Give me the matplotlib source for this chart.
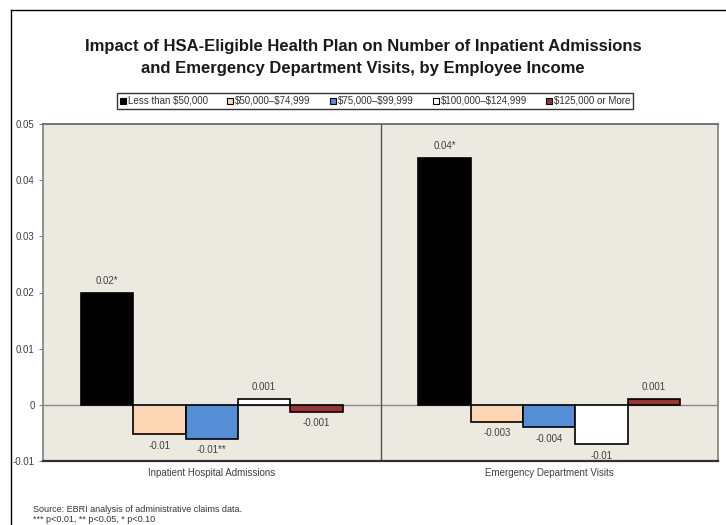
import matplotlib
matplotlib.use("Agg")
import matplotlib.pyplot as plt
from matplotlib.lines import Line2D
import numpy as np

plt.rcParams['font.family'] = ['Liberation Sans', 'DejaVu Sans']
plt.rcParams['text.parse_math'] = False

categories = ["Inpatient Hospital Admissions", "Emergency Department Visits"]
series = ["Less than $50,000", "$50,000\u2013$74,999", "$75,000\u2013$99,999",
          "$100,000\u2013$124,999", "$125,000 or More"]
values = {
    "Less than $50,000": [0.020, 0.044],
    "$50,000\u2013$74,999": [-0.0052, -0.003],
    "$75,000\u2013$99,999": [-0.006, -0.004],
    "$100,000\u2013$124,999": [0.001, -0.007],
    "$125,000 or More": [-0.0012, 0.001],
}
labels = {
    "Less than $50,000": ["0.02*", "0.04*"],
    "$50,000\u2013$74,999": ["-0.01", "-0.003"],
    "$75,000\u2013$99,999": ["-0.01**", "-0.004"],
    "$100,000\u2013$124,999": ["0.001", "-0.01"],
    "$125,000 or More": ["-0.001", "0.001"],
}
colors = ["#000000", "#FCD5B4", "#558ED5", "#FFFFFF", "#953735"]

fig = plt.figure(figsize=(7.26, 5.25), dpi=100)
ax = fig.add_axes([43/726, 1-461/525, 675/726, 337/525])
ax.set_facecolor("#ECEAE0")

x = np.arange(len(categories))
w = 0.155
for i, s in enumerate(series):
    xs = x + (i - 2) * w
    ax.bar(xs, values[s], width=w, color=colors[i], edgecolor="black", linewidth=1.2, zorder=3)
    for xi, v, lab in zip(xs, values[s], labels[s]):
        if v >= 0:
            ax.text(xi, v + 0.0012, lab, ha="center", va="bottom", fontsize=7, color="#404040")
        else:
            ax.text(xi, v - 0.0012, lab, ha="center", va="top", fontsize=7, color="#404040")

ax.set_xlim(-0.5, 1.5)
ax.set_ylim(-0.01, 0.05)
ax.axhline(0, color="#8C8C8C", linewidth=1.0, zorder=2)
ax.axvline(0.5, color="#555555", linewidth=1.0, zorder=2)
ax.set_yticks([-0.01, 0, 0.01, 0.02, 0.03, 0.04, 0.05])
ax.set_yticklabels(["-0.01", "0", "0.01", "0.02", "0.03", "0.04", "0.05"])
ax.tick_params(axis="y", labelsize=7, labelcolor="#404040", length=3, width=0.8, pad=3, color="#808080")
ax.set_xticks([])
for side in ["left", "right"]:
    ax.spines[side].set_color("#808080")
    ax.spines[side].set_linewidth(1.2)
ax.spines["top"].set_color("#606060")
ax.spines["top"].set_linewidth(1.2)
ax.spines["bottom"].set_color("#303030")
ax.spines["bottom"].set_linewidth(1.6)

for xi, c in zip(x, categories):
    ax.text(xi, -0.0113, c, ha="center", va="top", fontsize=7, color="#404040")

fig.text(0.5, 1-47/525, "Impact of HSA-Eligible Health Plan on Number of Inpatient Admissions",
         ha="center", va="center", fontsize=12, fontweight="bold", color="#1a1a1a")
fig.text(0.5, 1-68/525, "and Emergency Department Visits, by Employee Income",
         ha="center", va="center", fontsize=12, fontweight="bold", color="#1a1a1a")

handles = [Line2D([0], [0], marker="s", linestyle="none", markersize=5,
                  markerfacecolor=c, markeredgecolor="black", markeredgewidth=0.8)
           for c in colors]
leg = fig.legend(handles, series, loc="center", bbox_to_anchor=(375/726, 1-101/525),
                 ncol=5, fontsize=7, frameon=True, fancybox=False, handlelength=0.6,
                 handletextpad=0.2, columnspacing=2.0, borderpad=0.3, labelcolor="#333333")
leg.get_frame().set_edgecolor("black")
leg.get_frame().set_linewidth(1.0)

fig.text(33/726, 1-509/525, "Source: EBRI analysis of administrative claims data.",
         ha="left", va="center", fontsize=6.5, color="#333333")
fig.text(33/726, 1-520/525, "*** p<0.01, ** p<0.05, * p<0.10",
         ha="left", va="center", fontsize=6.5, color="#333333")

fig.add_artist(Line2D([11/726, 11/726], [0, 1-10/525], transform=fig.transFigure,
                      color="black", linewidth=1.0))
fig.add_artist(Line2D([11/726, 1], [1-10/525, 1-10/525], transform=fig.transFigure,
                      color="black", linewidth=1.0))

fig.savefig("out.png", dpi=100)
